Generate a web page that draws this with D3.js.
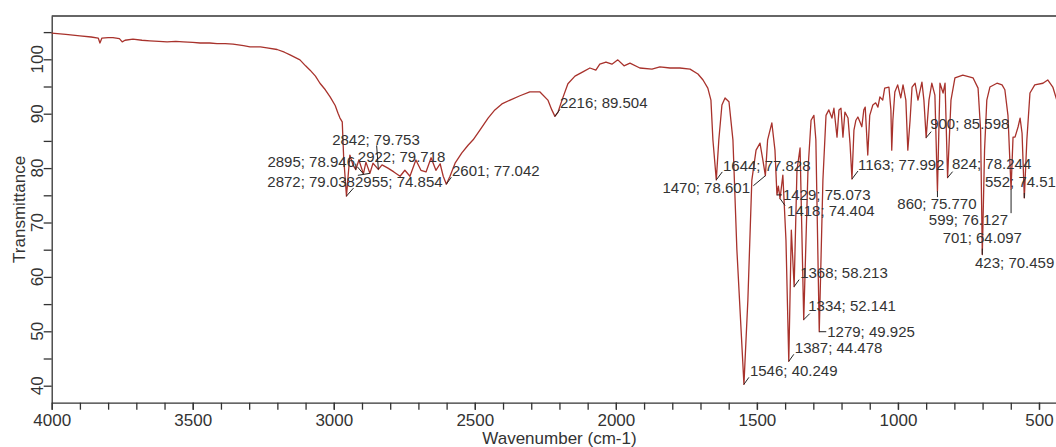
<!DOCTYPE html>
<html>
<head>
<meta charset="utf-8">
<script src="https://cdn.jsdelivr.net/npm/d3@7"></script>
<style>
  body { margin: 0; background: #fff; }
  svg { display: block; font-family: "Liberation Sans", Arial, sans-serif; }
</style>
</head>
<body>
<div id="container"></div>
<script>
/* spectre IR : [nombre d'onde, transmittance] */
const spectrum = [
  [4000,104.8],[3950,104.6],[3900,104.3],[3860,104.1],[3835,103.9],[3829,103.0],[3822,103.9],[3800,104.0],
  [3783,104.0],[3760,103.8],[3750,103.2],[3740,103.5],[3712,103.7],[3680,103.5],[3652,103.4],[3620,103.3],
  [3591,103.2],[3560,103.3],[3534,103.2],[3500,103.1],[3474,103.0],[3440,103.0],[3414,102.9],[3385,102.9],
  [3357,102.8],[3320,102.5],[3297,102.3],[3260,102.3],[3237,102.1],[3201,101.8],[3175,101.3],[3155,100.8],
  [3120,99.9],[3100,98.8],[3084,98.0],[3065,96.9],[3049,95.6],[3030,94.4],[3013,93.1],[2995,91.5],
  [2985,90.1],[2978,89.2],[2970,88.5],[2965,82.0],[2955,74.854],[2943,82.4],[2932,80.6],[2922,79.718],
  [2911,81.5],[2895,78.946],[2886,81.1],[2872,79.038],[2861,80.9],[2842,79.753],[2829,80.6],[2808,80.0],
  [2787,79.3],[2765,78.5],[2748,79.6],[2730,78.5],[2709,81.5],[2691,79.6],[2673,79.3],[2655,81.9],
  [2638,79.6],[2623,80.8],[2612,78.5],[2601,77.042],[2588,78.5],[2570,80.9],[2546,82.8],[2524,84.2],
  [2506,85.2],[2482,87.0],[2453,89.2],[2429,90.7],[2404,91.8],[2375,92.5],[2340,93.3],[2305,94.0],
  [2269,94.0],[2241,92.5],[2227,90.7],[2216,89.504],[2205,90.3],[2191,92.5],[2170,95.5],[2145,96.9],
  [2117,97.7],[2092,98.4],[2071,98.0],[2057,99.1],[2035,99.5],[2014,99.1],[1993,99.9],[1971,98.8],
  [1950,99.3],[1915,98.4],[1872,98.2],[1844,98.6],[1808,98.4],[1773,98.4],[1737,98.2],[1709,97.3],
  [1691,96.2],[1674,94.7],[1663,92.5],[1656,85.2],[1644,77.828],[1635,85.2],[1624,91.6],[1613,92.9],
  [1599,92.2],[1585,85.2],[1571,65.0],[1546,40.249],[1532,55.8],[1518,77.8],[1503,83.3],[1489,84.6],
  [1479,81.5],[1470,78.601],[1462,85.2],[1447,88.3],[1436,83.3],[1429,75.073],[1424,76.7],[1418,74.404],
  [1408,78.7],[1397,66.8],[1387,44.478],[1378,68.6],[1368,58.213],[1358,79.6],[1347,83.7],[1334,52.141],
  [1319,79.6],[1308,88.8],[1298,89.7],[1291,85.2],[1279,49.925],[1266,77.8],[1255,89.7],[1245,90.7],
  [1234,89.2],[1227,91.0],[1216,85.7],[1209,90.7],[1202,91.0],[1195,85.7],[1188,90.3],[1177,89.2],
  [1170,84.6],[1163,77.992],[1156,87.0],[1149,88.8],[1142,89.4],[1135,88.5],[1128,87.6],[1121,90.7],
  [1116,91.2],[1107,82.4],[1100,89.7],[1089,91.6],[1079,92.0],[1071,91.2],[1064,93.1],[1054,92.5],
  [1047,94.7],[1032,94.9],[1025,90.7],[1022,83.3],[1018,88.8],[1011,94.0],[1001,95.3],[990,92.9],
  [982,95.3],[972,92.5],[965,83.3],[957,88.8],[950,94.9],[939,95.6],[929,92.5],[915,95.8],
  [908,92.5],[900,85.598],[890,92.5],[880,95.6],[869,93.4],[860,75.770],[851,95.6],[840,93.8],
  [833,95.6],[824,78.244],[812,92.5],[798,96.6],[770,97.1],[734,96.6],[716,94.7],[707,87.0],
  [701,64.097],[693,83.3],[685,92.5],[674,94.9],[649,95.6],[631,95.3],[621,94.4],[610,89.7],
  [599,76.127],[592,85.7],[585,85.7],[574,87.6],[567,89.2],[560,86.4],[552,74.51],[543,85.2],
  [532,93.8],[515,95.3],[486,95.6],[469,96.2],[451,94.9],[437,92.5],[423,70.459],[412,90.7],[400,93.4]
];

/* les pics annotés */
const peakWn = [2955,2922,2895,2872,2842,2601,2216,1644,1470,1546,1429,1418,1387,1368,1334,1279,1163,900,860,824,701,599,552,423];
const peakT = [74.854,79.718,78.946,79.038,79.753,77.042,89.504,77.828,78.601,40.249,75.073,74.404,44.478,58.213,52.141,49.925,77.992,85.598,75.770,78.244,64.097,76.127,74.51,70.459];
const peakLabels = ["2955; 74.854","2922; 79.718","2895; 78.946","2872; 79.038","2842; 79.753","2601; 77.042",
  "2216; 89.504","1644; 77.828","1470; 78.601","1546; 40.249","1429; 75.073","1418; 74.404","1387; 44.478",
  "1368; 58.213","1334; 52.141","1279; 49.925","1163; 77.992","900; 85.598","860; 75.770","824; 78.244",
  "701; 64.097","599; 76.127","552; 74.51","423; 70.459"];

const xMajor = [4000,3500,3000,2500,2000,1500,1000,500];
const xMinor = d3.range(4000, 399, -100);
const yTicks = d3.range(40, 106, 5);
const yLabels = [40,50,60,70,80,90,100];

// placement des étiquettes (décalage texte, ancre, décalage du trait)
const labelLayout = [
  [8.5,-14,"start",7,-8],[2,-12.6,"start",0,-6],[-8.4,-11.8,"end",-6,-7],[-15,8.7,"end",-12,2],
  [-2.4,-29.4,"middle",-1.7,-24],[5.7,-13.2,"start",5,-7],[5,-13.4,"start",5,-7],[6.7,-14,"start",6,-8],
  [-15.4,12.3,"end",-12,10],[6,-13.3,"start",5,-7],[6,0,"start",5,0],[7,12.5,"start",5,7],
  [6,-13.3,"start",5,-7],[6,-13.6,"start",5,-7],[4.5,-13.7,"start",6,-6],[8,0,"start",7,0],
  [6,-14,"start",6,-8],[4,-13.6,"start",5,-6],[-0.5,13,"middle",0,6],[4.4,-13.7,"start",5,-6],
  [0,-16.6,"middle",0,-6],[-3,31,"end",0,24],[-39.3,-16,"start",0,-5],[-85.7,43,"start",-4,6]
];

const width = 1056;
const height = 447;
const mLeft = 51.7, mTop = 16, mBottom = 402.7, mRight = 1067.2;
const ink = "#333";

const x = d3.scaleLinear().domain([4000, 400]).range([mLeft, mRight]);
const y = d3.scaleLinear().domain([36.875, 107.96]).range([mBottom, mTop]);

const svg = d3.select("#container").append("svg")
    .attr("width", width)
    .attr("height", height);

// cadre du haut
svg.append("line")
    .attr("x1", mLeft).attr("x2", mRight)
    .attr("y1", mTop).attr("y2", mTop)
    .attr("stroke", ink).attr("stroke-width", 1.3);

// axe x : graduations mineures puis majeures
const xAxisG = svg.append("g").attr("transform", `translate(0,${mBottom})`);
xAxisG.append("g")
    .call(d3.axisBottom(x).tickValues(xMinor).tickSize(7).tickSizeOuter(0).tickFormat(""))
    .call(g => g.select(".domain").remove());
xAxisG.append("g")
    .call(d3.axisBottom(x).tickValues(xMajor).tickSize(7).tickSizeOuter(0).tickPadding(4).tickFormat(d3.format("d")));
xAxisG.selectAll("line").attr("stroke", ink).attr("stroke-width", 1.3);
xAxisG.selectAll(".domain").attr("stroke", ink).attr("stroke-width", 1.3);
xAxisG.selectAll("text")
    .attr("fill", ink)
    .attr("font-size", 17)
    .attr("font-family", "Liberation Sans, Arial, sans-serif");

// axe y
const yAxisG = svg.append("g").attr("transform", `translate(${mLeft},0)`)
    .call(d3.axisLeft(y).tickValues(yTicks).tickSize(8).tickSizeOuter(0).tickFormat(""));
yAxisG.selectAll("line").attr("stroke", ink).attr("stroke-width", 1.3);
yAxisG.select(".domain").attr("stroke", ink).attr("stroke-width", 1.3);

svg.append("g")
    .selectAll("text")
    .data(yLabels)
    .join("text")
    .attr("transform", d => `translate(43,${y(d)}) rotate(-90)`)
    .attr("text-anchor", "middle")
    .attr("font-size", 17)
    .attr("fill", ink)
    .text(d => d);

svg.append("text")
    .attr("transform", `translate(25,${(mTop + mBottom) / 2}) rotate(-90)`)
    .attr("text-anchor", "middle")
    .attr("font-size", 17)
    .attr("fill", ink)
    .text("Transmittance");

svg.append("text")
    .attr("x", (mLeft + mRight) / 2)
    .attr("y", 444)
    .attr("text-anchor", "middle")
    .attr("font-size", 17)
    .attr("fill", ink)
    .text("Wavenumber (cm-1)");

// la courbe
const line = d3.line()
    .x(d => x(d[0]))
    .y(d => y(d[1]));

svg.append("path")
    .datum(spectrum)
    .attr("fill", "none")
    .attr("stroke", "#a8322c")
    .attr("stroke-width", 1.3)
    .attr("stroke-linejoin", "round")
    .attr("d", line);

// annotations des pics
const peaks = peakWn.map((w, i) => ({ w: w, t: peakT[i], label: peakLabels[i], lay: labelLayout[i] }));

const ann = svg.append("g")
    .selectAll("g")
    .data(peaks)
    .join("g")
    .attr("transform", d => `translate(${x(d.w)},${y(d.t)})`);

ann.append("line")
    .attr("x1", 0).attr("y1", 0)
    .attr("x2", d => d.lay[3]).attr("y2", d => d.lay[4])
    .attr("stroke", "#222")
    .attr("stroke-width", 1);

ann.append("text")
    .attr("x", d => d.lay[0])
    .attr("y", d => d.lay[1])
    .attr("dy", "0.35em")
    .attr("text-anchor", d => d.lay[2])
    .attr("font-size", 15)
    .attr("fill", ink)
    .text(d => d.label);
</script>
</body>
</html>
